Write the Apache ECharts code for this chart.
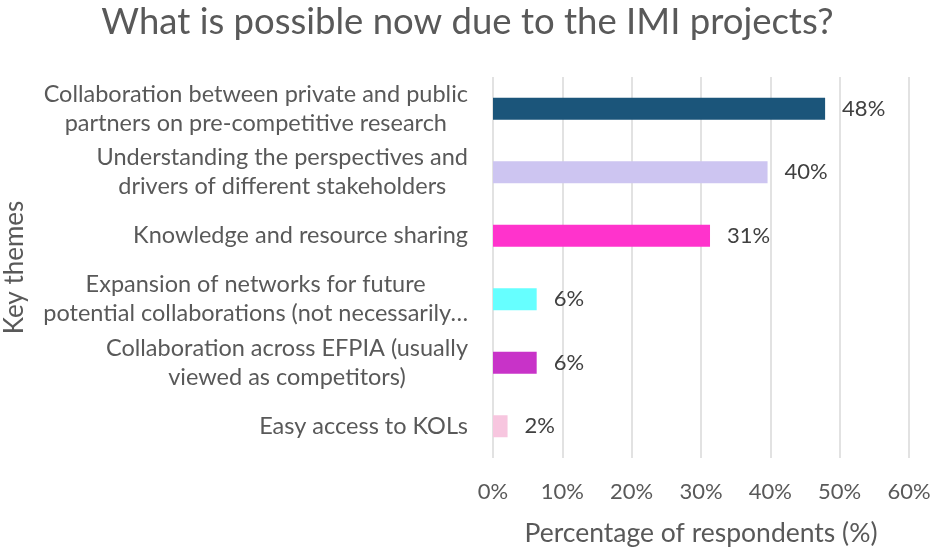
<!DOCTYPE html>
<html>
<head>
<meta charset="utf-8">
<script src="https://cdn.jsdelivr.net/npm/echarts@6/dist/echarts.min.js"></script>
<style>
  html, body { margin: 0; padding: 0; background: #fff; }
  #chart { width: 935px; height: 552px; }
</style>
</head>
<body>
<div id="chart"></div>
<script>
// categories top to bottom
var themes = [
    "Collaboration between private and public\npartners on pre-competitive research",
    "Understanding the perspectives and\ndrivers of different stakeholders",
    "Knowledge and resource sharing",
    "Expansion of networks for future\npotential collaborations (not necessarily…",
    "Collaboration across EFPIA (usually\nviewed as competitors)",
    "Easy access to KOLs"
];
// percentage of respondents
var percents = [47.9, 39.6, 31.3, 6.3, 6.3, 2.1];
var barColors = ["#1B557A", "#CDC5F1", "#FF33CC", "#66FFFF", "#C833C8", "#F7C6DF"];
var xTicks = [0, 10, 20, 30, 40, 50, 60];

var font = "Lato";
var chart = echarts.init(document.getElementById("chart"));

var option = {
    animation: false,
    backgroundColor: "#fff",
    title: {
        text: "What is possible now due to the IMI projects?",
        left: "center",
        top: -1,
        textStyle: {fontFamily: font, fontSize: 36.5, fontWeight: "normal", color: "#595959"}
    },
    grid: {left: 493, right: 26, top: 77, bottom: 93},
    xAxis: {
        type: "value",
        min: xTicks[0],
        max: xTicks[xTicks.length - 1],
        interval: 10,
        name: "Percentage of respondents (%)",
        nameLocation: "middle",
        nameGap: 62,
        nameTextStyle: {fontFamily: font, fontSize: 26.5, color: "#595959"},
        axisLine: {show: false},
        axisTick: {show: false},
        axisLabel: {
            formatter: "{value}%",
            margin: 23,
            fontFamily: font, fontSize: 22, color: "#595959"
        },
        splitLine: {lineStyle: {color: "#D9D9D9", width: 1.5}}
    },
    yAxis: {
        type: "category",
        inverse: true,
        data: themes,
        name: "Key themes",
        nameLocation: "middle",
        nameGap: 465,
        nameTextStyle: {fontFamily: font, fontSize: 26, color: "#595959"},
        axisLine: {show: false},
        axisTick: {show: false},
        axisLabel: {
            margin: 25,
            formatter: function (v) {
                return v.split("\n").map(function (l) { return "{c|" + l + "}"; }).join("\n");
            },
            rich: {
                c: {align: "center", fontFamily: font, fontSize: 23.5, color: "#595959", lineHeight: 29}
            }
        }
    },
    series: [{
        type: "bar",
        data: percents.map(function (v, i) {
            return {value: v, itemStyle: {color: barColors[i]}};
        }),
        barWidth: 22,
        label: {
            show: true,
            position: "right",
            distance: 17,
            formatter: function (p) { return Math.round(p.value) + "%"; },
            fontFamily: font, fontSize: 22, color: "#404040"
        }
    }]
};
chart.setOption(option);
</script>
</body>
</html>
